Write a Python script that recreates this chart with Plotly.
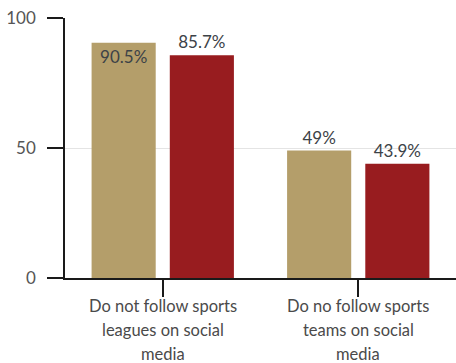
import plotly.graph_objects as go

# Share of respondents (%) per question, two groups
categories = [
    "Do not follow sports<br>leagues on social<br>media",
    "Do no follow sports<br>teams on social<br>media",
]
series_a = [90.5, 49.0]
series_b = [85.7, 43.9]
labels_a = ["90.5%", "49%"]
labels_b = ["85.7%", "43.9%"]
y_ticks = [0, 50, 100]

GOLD = "#B49E6A"
RED = "#981C1F"
TEXT = "#3c4247"
FONT = "Lato"

fig = go.Figure()
fig.add_trace(go.Bar(
    x=categories, y=series_a, marker=dict(color=GOLD, line=dict(width=0)),
    text=labels_a, textposition=["inside", "outside"], insidetextanchor="end",
    textfont=dict(family=FONT, size=17, color=TEXT), cliponaxis=False,
    showlegend=False,
))
fig.add_trace(go.Bar(
    x=categories, y=series_b, marker=dict(color=RED, line=dict(width=0)),
    text=labels_b, textposition="outside",
    textfont=dict(family=FONT, size=17, color=TEXT), cliponaxis=False,
    showlegend=False,
))

# Category labels, one annotation per line for a looser line height
line_offsets = [-0.108, -0.2, -0.294]
for cat in categories:
    for i, part in enumerate(cat.split("<br>")):
        fig.add_annotation(
            x=cat, y=line_offsets[i], xref="x", yref="paper",
            text=part, showarrow=False, xanchor="center", yanchor="middle",
            font=dict(family=FONT, size=16.5, color="#4a4a4a"),
        )

fig.update_layout(
    width=456, height=363,
    margin=dict(l=65, r=0, t=18, b=85),
    paper_bgcolor="white", plot_bgcolor="white",
    barmode="group", bargap=0.2, bargroupgap=0.18,
    font=dict(family=FONT, color="#555555"),
)
fig.update_xaxes(
    type="category", range=[-0.5, 1.5], automargin=False,
    showline=True, linecolor="#1a1a1a", linewidth=1.5,
    ticks="outside", ticklen=17, tickcolor="#1a1a1a", tickwidth=1.5,
    showticklabels=False, showgrid=False,
)
fig.update_yaxes(
    range=[0, 100], tickvals=y_ticks, automargin=False,
    showline=True, linecolor="#1a1a1a", linewidth=1.5,
    ticks="outside", ticklen=16, tickcolor="#1a1a1a", tickwidth=1.5,
    ticklabelstandoff=8,
    tickfont=dict(family=FONT, size=17, color="#555555"),
    showgrid=True, gridcolor="#e4e4e4", gridwidth=1, zeroline=False,
)

fig.write_html("out.html")
